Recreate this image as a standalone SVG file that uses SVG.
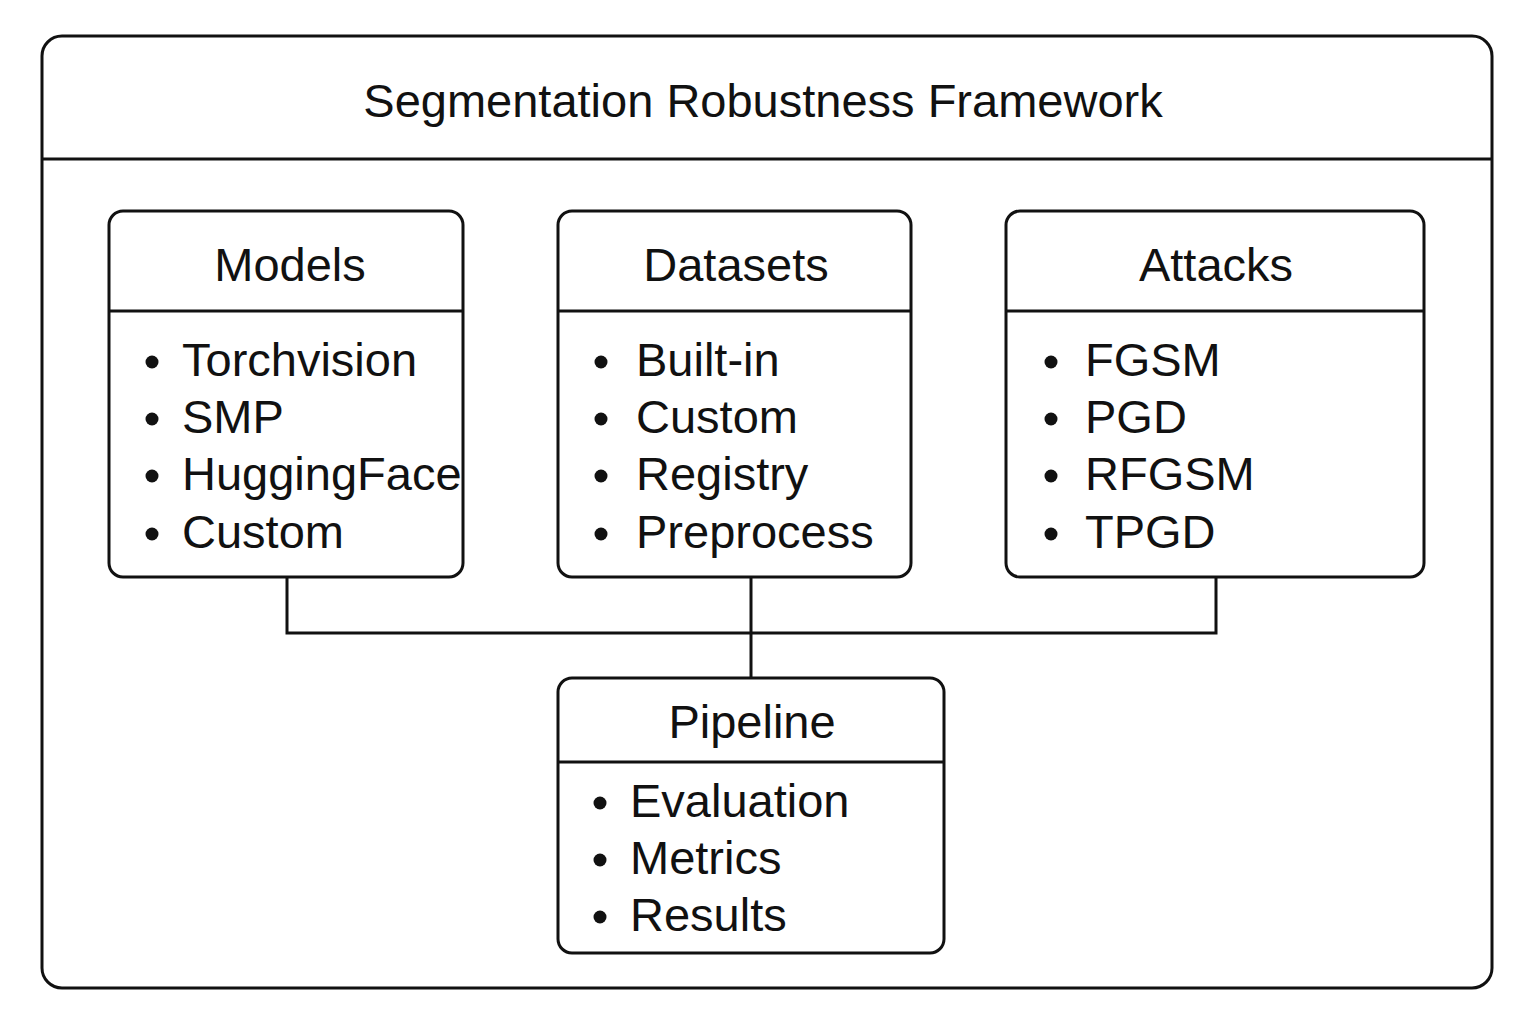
<svg xmlns="http://www.w3.org/2000/svg" width="1536" height="1024" viewBox="0 0 1536 1024">
<style>
.box{fill:#fff;stroke:#111;stroke-width:3}
.ln{stroke:#111;stroke-width:3;fill:none}
.t{font-family:"Liberation Sans",Arial,sans-serif;fill:#111}
.title{font-size:47px;text-anchor:middle}
.hd{font-size:47px;text-anchor:middle}
.it{font-size:47px}
.b{fill:#111}
</style>
<rect width="1536" height="1024" fill="#fff"/>
<g id="frame">
<rect class="box" x="42" y="36" width="1450" height="952" rx="20"/>
<line class="ln" x1="42" y1="159" x2="1492" y2="159"/>
<text class="t title" x="763" y="117">Segmentation Robustness Framework</text>
</g>
<g id="connectors">
<polyline class="ln" points="287,577 287,633 1216,633 1216,577"/>
<line class="ln" x1="751" y1="577" x2="751" y2="678"/>
</g>
<g id="models">
<rect class="box" x="109" y="211" width="354" height="366" rx="14"/>
<line class="ln" x1="109" y1="311" x2="463" y2="311"/>
<text class="t hd" x="290" y="281">Models</text>
<circle class="b" cx="152" cy="362" r="6.5"/><text class="t it" x="182" y="376">Torchvision</text>
<circle class="b" cx="152" cy="419" r="6.5"/><text class="t it" x="182" y="433">SMP</text>
<circle class="b" cx="152" cy="476" r="6.5"/><text class="t it" x="182" y="490">HuggingFace</text>
<circle class="b" cx="152" cy="534" r="6.5"/><text class="t it" x="182" y="548">Custom</text>
</g>
<g id="datasets">
<rect class="box" x="558" y="211" width="353" height="366" rx="14"/>
<line class="ln" x1="558" y1="311" x2="911" y2="311"/>
<text class="t hd" x="736" y="281">Datasets</text>
<circle class="b" cx="601" cy="362" r="6.5"/><text class="t it" x="636" y="376">Built-in</text>
<circle class="b" cx="601" cy="419" r="6.5"/><text class="t it" x="636" y="433">Custom</text>
<circle class="b" cx="601" cy="476" r="6.5"/><text class="t it" x="636" y="490">Registry</text>
<circle class="b" cx="601" cy="534" r="6.5"/><text class="t it" x="636" y="548">Preprocess</text>
</g>
<g id="attacks">
<rect class="box" x="1006" y="211" width="418" height="366" rx="14"/>
<line class="ln" x1="1006" y1="311" x2="1424" y2="311"/>
<text class="t hd" x="1216" y="281">Attacks</text>
<circle class="b" cx="1051" cy="362" r="6.5"/><text class="t it" x="1085" y="376">FGSM</text>
<circle class="b" cx="1051" cy="419" r="6.5"/><text class="t it" x="1085" y="433">PGD</text>
<circle class="b" cx="1051" cy="476" r="6.5"/><text class="t it" x="1085" y="490">RFGSM</text>
<circle class="b" cx="1051" cy="534" r="6.5"/><text class="t it" x="1085" y="548">TPGD</text>
</g>
<g id="pipeline">
<rect class="box" x="558" y="678" width="386" height="275" rx="14"/>
<line class="ln" x1="558" y1="762" x2="944" y2="762"/>
<text class="t hd" x="752" y="738">Pipeline</text>
<circle class="b" cx="600" cy="803" r="6.5"/><text class="t it" x="630" y="817">Evaluation</text>
<circle class="b" cx="600" cy="860" r="6.5"/><text class="t it" x="630" y="874">Metrics</text>
<circle class="b" cx="600" cy="917" r="6.5"/><text class="t it" x="630" y="931">Results</text>
</g>
</svg>
